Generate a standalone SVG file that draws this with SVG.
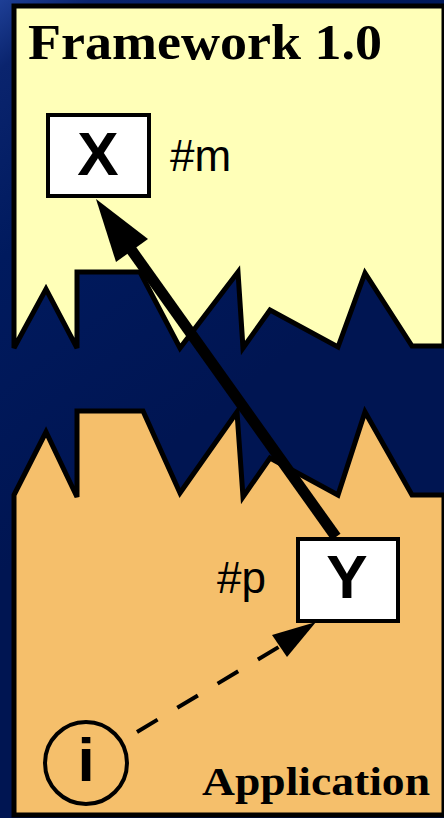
<svg xmlns="http://www.w3.org/2000/svg" width="444" height="818" viewBox="0 0 444 818">
<defs>
<linearGradient id="bg" x1="0" y1="0" x2="0.25" y2="0.6">
<stop offset="0" stop-color="#1e3f96"/>
<stop offset="0.12" stop-color="#0a246e"/>
<stop offset="0.45" stop-color="#001a5e"/>
<stop offset="1" stop-color="#001552"/>
</linearGradient>
<style>
.region{stroke:#000;stroke-width:5;stroke-linejoin:miter}
.box{fill:#fff;stroke:#000;stroke-width:4}
.big{font-family:"Liberation Sans",Arial,sans-serif;font-weight:bold;font-size:62px;fill:#000;text-anchor:middle}
.lbl{font-family:"Liberation Sans",Arial,sans-serif;font-size:44px;fill:#000}
.title{font-family:"Liberation Serif","Times New Roman",serif;font-weight:bold;fill:#000}
</style>
</defs>
<rect width="444" height="818" fill="url(#bg)"/>
<g id="framework">
<polygon class="region" fill="#ffffb8" points="14,6 444,6 444,346 412,346 365,273 338,347 270,310 243,348 238,272 180,348 140,272 77,272 77,348 46,289 14,348"/>
<text class="title" x="28" y="59" font-size="50" textLength="354" lengthAdjust="spacingAndGlyphs">Framework 1.0</text>
</g>
<g id="application">
<polygon class="region" fill="#f5bf6b" points="14,495 46,432 77,497 77,411 143,411 180,493 237,412 243,497 270,458 338,495 365,412 412,495 444,495 444,815 14,815"/>
<text class="title" x="202" y="795" font-size="40" textLength="228" lengthAdjust="spacingAndGlyphs">Application</text>
</g>
<g id="connectors">
<line x1="336" y1="537" x2="130" y2="248" stroke="#000" stroke-width="11"/>
<polygon points="96,199 116,262 148,239" fill="#000"/>
<line x1="137" y1="732" x2="282" y2="645" stroke="#000" stroke-width="4" stroke-dasharray="24 23"/>
<polygon points="316,622 272,635 287,657" fill="#000"/>
</g>
<g id="nodeX">
<rect class="box" x="48" y="115" width="101" height="81"/>
<text class="big" x="98" y="175">X</text>
<text class="lbl" x="170" y="171">#m</text>
</g>
<g id="nodeY">
<rect class="box" x="298" y="539" width="100" height="82"/>
<text class="big" x="347" y="598">Y</text>
<text class="lbl" x="217" y="593">#p</text>
</g>
<g id="nodeI">
<circle cx="86" cy="763" r="41" fill="none" stroke="#000" stroke-width="4"/>
<text class="big" x="86" y="781">i</text>
</g>
</svg>
